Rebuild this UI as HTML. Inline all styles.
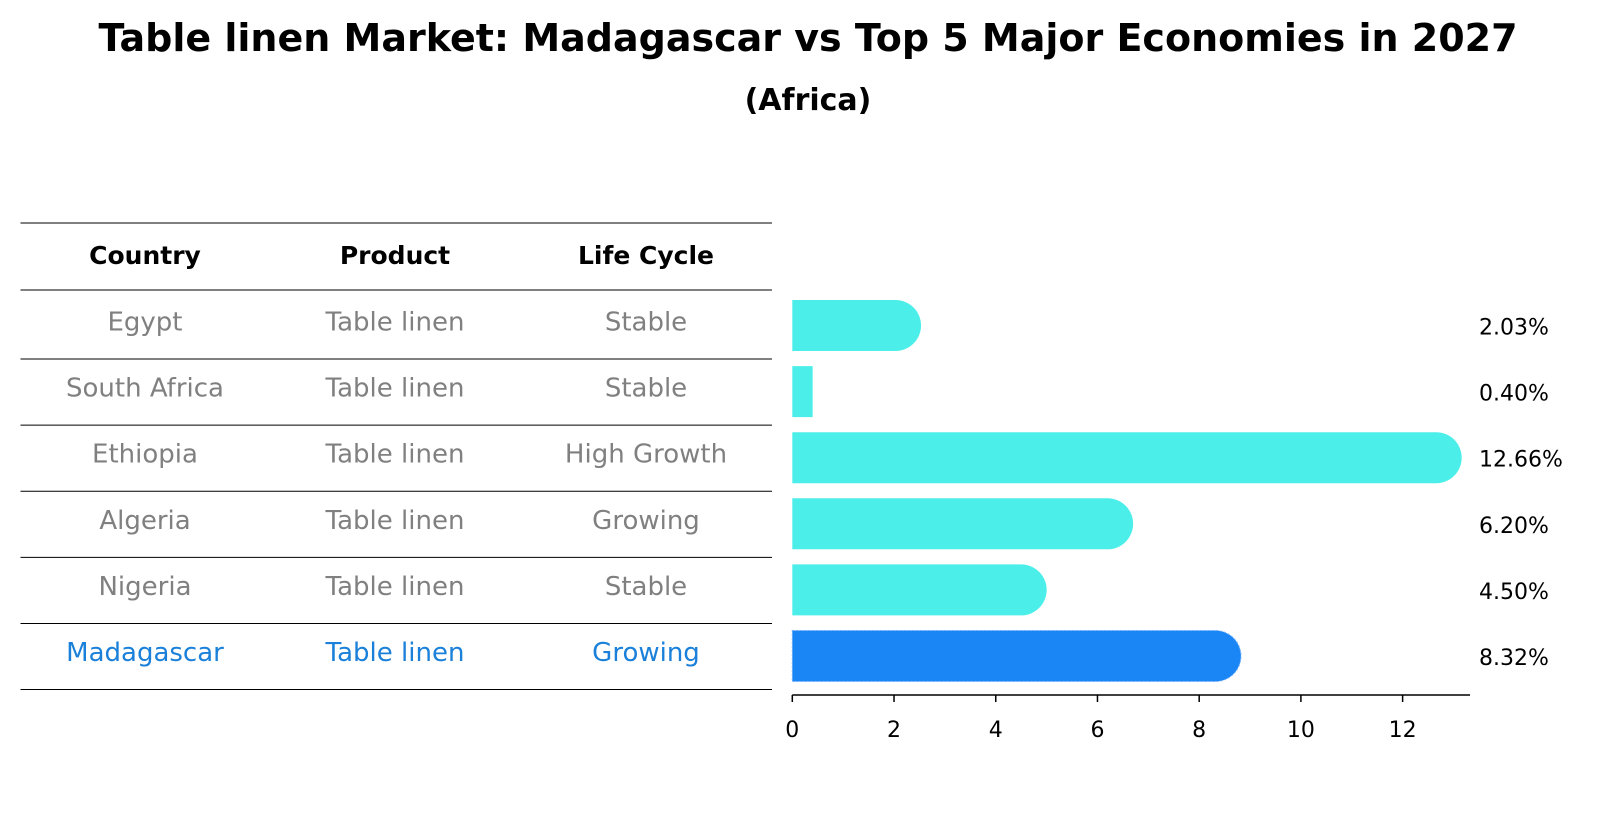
<!DOCTYPE html>
<html><head><meta charset="utf-8"><style>
body{margin:0;background:#fff;font-family:"Liberation Sans","DejaVu Sans",sans-serif;}
svg{display:block}
</style></head><body>
<svg id="chart" width="1604" height="823" xmlns="http://www.w3.org/2000/svg" font-family="DejaVu Sans, Liberation Sans, sans-serif">
<text x="808" y="51" text-anchor="middle" font-size="38" font-weight="bold">Table linen Market: Madagascar vs Top 5 Major Economies in 2027</text>
<text x="808" y="110" text-anchor="middle" font-size="30" font-weight="bold">(Africa)</text>
<g id="table"></g>
<g id="bars"></g>
</svg>
<script>
const countries=["Egypt","South Africa","Ethiopia","Algeria","Nigeria","Madagascar"];
const products=["Table linen","Table linen","Table linen","Table linen","Table linen","Table linen"];
const lifeCycles=["Stable","Stable","High Growth","Growing","Stable","Growing"];
const growthValues=[2.03,0.40,12.66,6.20,4.50,8.32];
const tickValues=[0,2,4,6,8,10,12];
const NS="http://www.w3.org/2000/svg";
function mk(tag,attrs,parent){const e=document.createElementNS(NS,tag);for(const k in attrs)e.setAttribute(k,attrs[k]);parent.appendChild(e);return e;}
const x0=792.3,ux=50.86;
function xs(v){return x0+v*ux;}
const rowY0=325.5,rowStep=66.1,barH=51;
function ys(i){return rowY0+i*rowStep;}
const table=document.getElementById('table');
for(let i=0;i<=countries.length;i++){
  const y=i===0?223:(ys(i-1)+rowStep/2+0.5);
  const l=mk('line',{x1:20.5,x2:772,y1:y,y2:y,stroke:'#000','stroke-width':1},table);
  
  
}
const cols=[145,395,646];
const heads=["Country","Product","Life Cycle"];
heads.forEach((h,j)=>{const t=mk('text',{x:cols[j],y:264,'text-anchor':'middle','font-size':'25','font-weight':'bold'},table);t.textContent=h;

});
const hl=mk('line',{x1:20.5,x2:772,y1:290,y2:290,stroke:'#000','stroke-width':1},table);


countries.forEach((c,i)=>{
  const col=i===countries.length-1?'#1a80d9':'#808080';
  [c,products[i],lifeCycles[i]].forEach((v,j)=>{
    const t=mk('text',{x:cols[j],y:ys(i)+5,'text-anchor':'middle','font-size':'26',fill:col},table);t.textContent=v;
    
    
  });
});
const bars=document.getElementById('bars');
growthValues.forEach((v,i)=>{
  const hi=i===growthValues.length-1;
  const fill=hi?'#1a85f5':'#4ceeea';
  const r=barH/2, y=ys(i)-r, xe=xs(v);
  let d;
  if(xe-x0>r){d=`M${x0},${y}H${xe}A${r},${r} 0 0 1 ${xe},${y+barH}H${x0}Z`;}
  else{d=`M${x0},${y}H${xe}V${y+barH}H${x0}Z`;}
  const p=mk('path',{d:d,fill:fill},bars);
  if(hi){p.setAttribute('stroke','#6fb0ff');p.setAttribute('stroke-dasharray','2 2');p.setAttribute('stroke-width','1');}
  
  
  const t=mk('text',{x:1479,y:ys(i)+9,'font-size':'22',fill:'#000'},bars);
  t.textContent=v.toFixed(2)+'%';
  
  
});
const ax=mk('line',{x1:x0,x2:1470,y1:695,y2:695,stroke:'#000','stroke-width':1.5},bars);


tickValues.forEach(v=>{
  const tk=mk('line',{x1:xs(v),x2:xs(v),y1:695,y2:702,stroke:'#000','stroke-width':1.5},bars);
  
  
  const t=mk('text',{x:xs(v),y:737,'text-anchor':'middle','font-size':'22'},bars);
  t.textContent=v;
  
  
});
</script>
</body></html>
